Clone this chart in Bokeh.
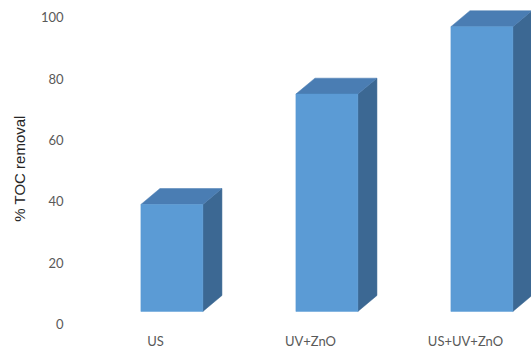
from bokeh.plotting import figure
from bokeh.models import Range1d, FixedTicker
from bokeh.embed import file_html
from bokeh.resources import INLINE

# Data
categories = ["US", "UV+ZnO", "US+UV+ZnO"]
toc_removal = [39, 75, 97]
y_ticks = [0, 20, 40, 60, 80, 100]

# 3D styling (in data units)
bar_width = 0.40
bar_shift = 0.106
depth_x = 0.123
depth_y = 5.2
floor = 4.1

front_color = "#5B9BD5"
top_color = "#4A7DB3"
side_color = "#3C6893"

p = figure(width=531, height=351, output_backend="svg", toolbar_location=None,
           x_range=Range1d(-0.561, 2.426), y_range=Range1d(-2.45, 103.9),
           min_border_left=68, min_border_right=0, min_border_top=5, min_border_bottom=0)

xs = [i + bar_shift for i in range(len(categories))]

side_xs, side_ys, top_xs, top_ys = [], [], [], []
for x, v in zip(xs, toc_removal):
    r = x + bar_width / 2
    l = x - bar_width / 2
    side_xs.append([r, r, r + depth_x, r + depth_x])
    side_ys.append([floor, v, v + depth_y, floor + depth_y])
    top_xs.append([l, r, r + depth_x, l + depth_x])
    top_ys.append([v, v, v + depth_y, v + depth_y])

p.patches(side_xs, side_ys, fill_color=side_color, line_color=side_color, line_width=0.5)
p.patches(top_xs, top_ys, fill_color=top_color, line_color=top_color, line_width=0.5)
p.vbar(x=xs, top=toc_removal, bottom=floor, width=bar_width,
       fill_color=front_color, line_color=front_color, line_width=0.5)

# axes
p.xaxis.ticker = FixedTicker(ticks=list(range(len(categories))))
p.xaxis.major_label_overrides = {i: c for i, c in enumerate(categories)}
p.yaxis.ticker = FixedTicker(ticks=y_ticks)
for ax in (p.xaxis[0], p.yaxis[0]):
    ax.axis_line_color = None
    ax.major_tick_line_color = None
    ax.minor_tick_line_color = None
    ax.major_tick_out = 0
    ax.major_tick_in = 0
    ax.minor_tick_out = 0
    ax.minor_tick_in = 0
    ax.major_label_text_font = "Lato"
    ax.major_label_text_font_size = "13px"
    ax.major_label_text_color = "#595959"
p.xaxis.major_label_standoff = 1
p.yaxis.major_label_standoff = 5
p.yaxis.axis_label = "% TOC removal"
p.yaxis.axis_label_text_font = "Liberation Sans"
p.yaxis.axis_label_text_font_size = "15px"
p.yaxis.axis_label_text_font_style = "normal"
p.yaxis.axis_label_text_color = "#262626"
p.yaxis.axis_label_standoff = 10

p.xgrid.grid_line_color = None
p.ygrid.grid_line_color = None
p.outline_line_color = None

open("out.html", "w").write(file_html(p, INLINE))
